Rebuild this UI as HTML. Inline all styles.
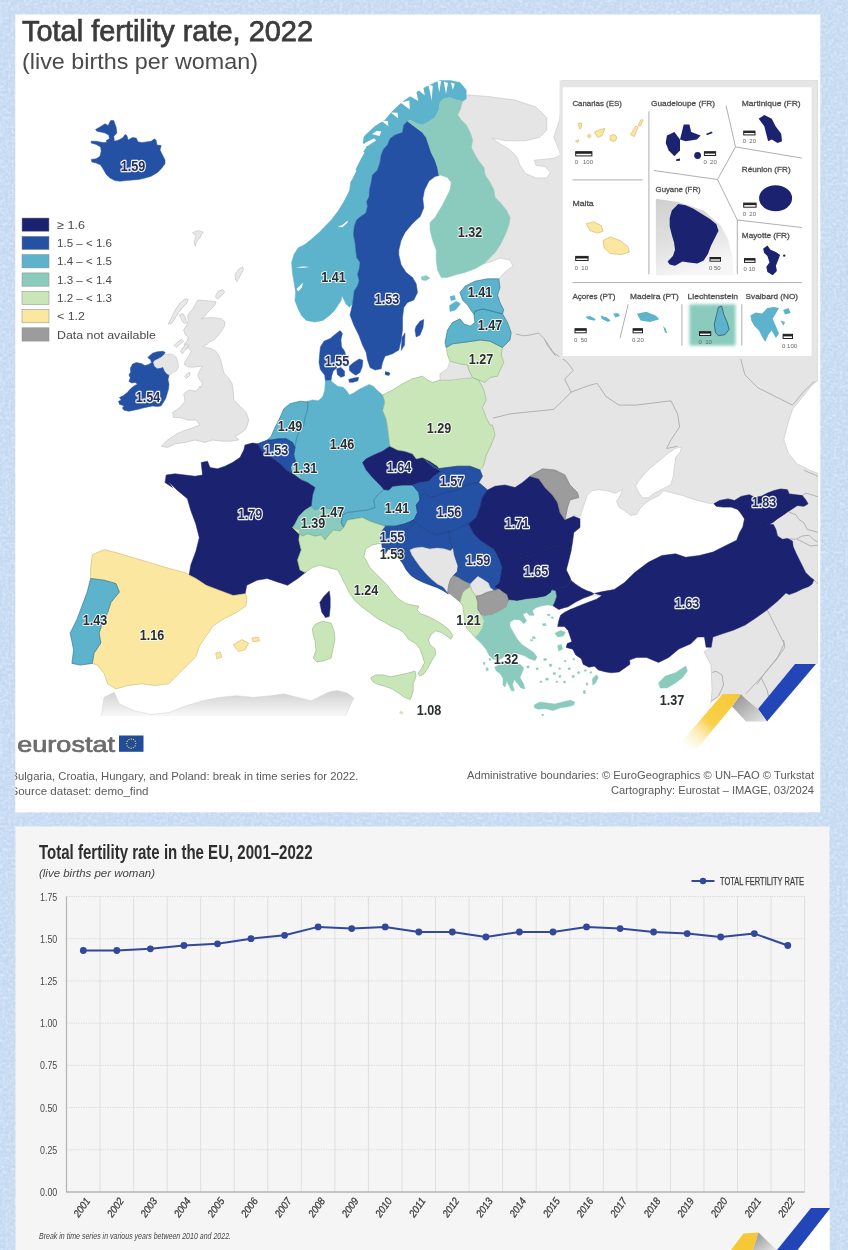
<!DOCTYPE html>
<html lang="en"><head><meta charset="utf-8"><title>Total fertility rate, 2022</title>
<style>html,body{margin:0;padding:0;background:#c3d8f1;}svg{display:block;filter:blur(0.45px)}text{font-family:"Liberation Sans",sans-serif}</style></head><body>
<svg width="848" height="1250" viewBox="0 0 848 1250">
<defs>
<clipPath id="mapclip"><rect x="15.3" y="80" width="802.6" height="645"/></clipPath>
<filter id="noise" x="0" y="0" width="100%" height="100%"><feTurbulence type="fractalNoise" baseFrequency="0.35" numOctaves="2" seed="3" result="n"/><feColorMatrix in="n" type="matrix" values="0 0 0 0 0.84  0 0 0 0 0.90  0 0 0 0 0.975  0.8 0.8 0 0 -0.62"/></filter>
<linearGradient id="afr" gradientUnits="userSpaceOnUse" x1="0" y1="692" x2="0" y2="720"><stop offset="0" stop-color="#d2d2d2"/><stop offset="1" stop-color="#ffffff"/></linearGradient>
<linearGradient id="yel" x1="1" y1="0" x2="0" y2="1"><stop offset="0" stop-color="#f6c835"/><stop offset="0.5" stop-color="#f8d04a"/><stop offset="1" stop-color="#ffffff" stop-opacity="0"/></linearGradient>
<linearGradient id="gry" x1="0" y1="0" x2="1" y2="1"><stop offset="0" stop-color="#8e8e8e"/><stop offset="1" stop-color="#e6e6e6"/></linearGradient>
<filter id="soft" x="-10%" y="-10%" width="120%" height="120%"><feGaussianBlur stdDeviation="1.5"/></filter>
<linearGradient id="guy" x1="0" y1="0" x2="0.35" y2="1"><stop offset="0" stop-color="#cfcfcf"/><stop offset="0.6" stop-color="#e2e2e2"/><stop offset="1" stop-color="#f6f6f6"/></linearGradient>
</defs>

<rect width="848" height="1250" fill="#c3d8f1"/>
<rect width="848" height="1250" fill="#c3d8f1" filter="url(#noise)"/>
<rect x="15.3" y="14.5" width="805" height="797.8" fill="#ffffff"/>
<g clip-path="url(#mapclip)">
<g id="land-bg">
<polygon points="466.2,98.8 465.4,94.8 488.4,96.5 514.9,100.1 536.1,107.1 546.8,117.8 546.8,130.1 539.7,137.2 525.5,140.8 506.1,140.8 491.9,138.1 500.8,144.3 509.6,149.6 516.7,156.7 520.2,165.5 525.5,173.5 536.1,177.9 546.8,177.9 550.3,172.6 545,166.4 536.1,165.5 534.4,160.2 543.2,159.3 553.8,158.4 560.9,154.9 557.4,146.1 553.8,137.2 559.1,121.3 561.8,105.4 562,80 818,80 818,722 705,722 708,712 711,703 712,690 711,665 704,652 711,647 690,600 650,540 600,520 560,520 470,510 440,460 470,400 490,350 495,300 498.8,278.8 505,272 513,266 510,260 500,258 490,262 483.8,263.8 490,257.5 495,252.5 500,245 505,235 508.8,225 510,217.5 506.2,210 500,202.5 495,197.5 493.8,190 490,182.5 485,175 483.8,167.5 478.8,161.2 475,155 471.2,147.5 472.5,140 470,132.5 466.2,125 461.2,120 457.5,115 460,110 462.5,101.2" fill="#e5e5e5" stroke="#c4c4c4" stroke-width="0.6" stroke-linejoin="round"/>
<polygon points="580,516.7 582.4,509.6 584.8,502.5 587.1,495.5 591.8,490.8 598.9,489.6 607.2,490.8 615.4,493.1 622.5,489.6 620.1,495.5 616.6,501.4 619,507.3 624.9,510.8 630.8,515.5 636.7,514.3 640.2,508.4 646.1,502.5 652,499 659.1,495.5 663.8,490.8 673.2,493.1 682.6,495.5 692.1,499 701.5,501.4 710.9,503.7 715.7,502.5 725.1,501.4 752,500 753,522 742,544 728,558 702,565 678,565 659,563 640,570 626,582 610,594 594,596 586,593 575,592 564,584 559,571 560,557 564,540 568,525 574,515" fill="#ffffff" stroke="#c4c4c4" stroke-width="0.6" stroke-linejoin="round"/>
<polygon points="635.5,486 640.2,479 647.3,470.7 654.3,464.8 661.4,458.9 668.5,453 675.6,448.3 681.5,447.1 680.3,451.8 675.6,457.7 674.4,467.2 673.2,476.6 670.8,484.9 663.8,488.4 659.1,490.8 654.3,493.1 648.4,497.8 642.5,497.8 639,493.1" fill="#ffffff" stroke="#c4c4c4" stroke-width="0.6" stroke-linejoin="round"/>
<polygon points="822.9,376.9 814.2,383.4 809.9,387.7 801.2,398.6 792.5,409.4 788.2,422.5 783.8,439.8 788.2,452.8 796.8,463.7 809.9,470.2 822.9,475.4" fill="#ffffff" stroke="#c4c4c4" stroke-width="0.6" stroke-linejoin="round"/>
<polygon points="104,697.4 114.3,692.3 119.4,704 134.7,711 151.7,714.4 168.7,712.7 185.7,706 202.7,700.8 219.6,697.4 236.6,695.7 253.6,697.4 270.6,695.7 284,694 297.8,697.4 311.4,700.8 318,697.4 328.3,692.3 336.8,690.5 347,693 353.8,698 350,706 345,716.6 343,726 100,726" fill="url(#afr)" stroke="#cfcfcf" stroke-width="0.5"/>
<rect x="90" y="716" width="270" height="12" fill="#ffffff"/>
<g fill="none" stroke="#ababab" stroke-width="0.9" stroke-linejoin="round">
<polyline points="493.0,418.1 510.4,413.8 532.1,411.6 553.8,409.4 562.5,400.8 571.1,392.1 588.5,385.6 597.2,383.4"/>
<polyline points="597.2,383.4 605.9,396.4 618.9,405.1 636.2,405.1 653.6,402.9 671.0,400.8 677.5,413.8 679.7,426.8 671.0,439.8 666.6,448.5 677.5,446.3"/>
<polyline points="545.1,340.0 553.8,353.0 566.8,361.7 573.3,370.4 564.6,379.1 571.1,392.1"/>
<polyline points="515.8,334.0 523.4,335.8 530.9,334.9 538.5,333.0 544.2,338.7 547.9,346.2 555.5,355.7"/>
<polyline points="740.4,357.4 744.8,374.7 757.8,387.7 775.1,396.4 792.5,405.1 803.4,392.1 814.2,381.2"/>
<polyline points="789.1,512.1 795.7,514.6 799.0,519.5 803.9,522.8 807.2,529.4 813.8,531.1 818.8,532.7"/>
<polyline points="787.4,538.5 795.7,539.3 802.3,536.0 808.9,535.2 813.0,539.3 818.8,542.6"/>
<polyline points="797.3,539.3 803.9,542.6 810.5,545.9 818.8,545.1"/>
<polyline points="802.3,495.6 805.6,493.1 812.2,494.8 818.8,497.2"/>
<polyline points="813.8,579.8 816.3,582.3 818.0,583.9"/>
<polyline points="803.9,470.0 808.9,472.5 815.5,475.0 818.8,477.4"/>
<polyline points="767.2,609.8 777.4,630.2 784.2,643.8 777.4,657.4 763.8,674.4 757.0,684.6"/>
<polyline points="783.5,640.0 784.8,647.5 776.0,660.0 761.0,677.5 746.0,693.8"/>
<polyline points="761.0,677.5 767.2,690.0 768.5,696.2"/>
<polyline points="711.0,701.2 718.5,696.2 723.5,685.0 722.2,675.0 716.0,671.2 712.2,672.5"/>
</g>
<g fill="#e8e8e8" stroke="#b5b5b5" stroke-width="0.5">
<polygon points="192.5,232.7 198.1,230.6 203.1,232.0 199.5,238.4 196.7,241.2 195.3,246.2 193.9,242.6 196.0,236.3"/>
<polygon points="234.9,275.2 238.4,269.5 242.7,266.7 243.4,269.5 240.6,275.2 237.0,281.6 235.6,279.4"/>
<polygon points="215.4,296.4 217.9,291.5 222.9,289.6 224.7,292.2 220.8,296.4 217.6,299.2"/>
</g>
</g><g id="countries">
<polygon points="95.6,129.4 100,126.9 105,123.8 108.1,125.6 110.6,120.6 113.8,120.6 116.2,127.5 116.9,133.1 113.8,136.2 114.4,141.2 118.8,140 123.1,137.5 125,134.4 126.9,135.6 128.1,140 132.5,137.5 136.2,138.1 138.1,141.9 142.5,142.5 146.2,141.9 151.2,141.2 154.4,138.8 156.2,140.6 156.9,145 161.2,145.6 160,150 162.5,155 165,160 165,163.8 161.2,168.8 157.5,172.5 151.2,176.2 145,178.1 138.8,179.4 132.5,180 126.2,180.6 120,181.2 115,180.6 110,178.1 106.2,174.4 103.8,170 100.6,165 96.2,163.1 91.9,161.9 91.2,159.4 96.2,158.8 100,156.2 101.2,151.2 100.6,146.9 96.2,144.4 91.2,143.1 91.2,141.2 96.2,141.2 102.5,142.5 106.9,142.5 106.2,140.6 109.4,138.8 108.8,135 105,133.1 100.6,131.9 96.9,131.2" fill="#2451a3" stroke="#2451a3" stroke-width="0.5" stroke-linejoin="round"/>
<polygon points="352.6,303.9 349.3,307.2 346,303.9 343.6,299 341.9,295.7 341.1,300.6 337.8,305.6 334.5,310.5 329.5,315.5 322.9,320.4 314.7,322.1 306.4,320.4 301.5,315.5 298.2,308.9 294.9,300.6 295.7,292.4 294,282.5 292.4,272.5 291.6,262.6 294,254.4 298.2,247.8 304.8,244.5 311.4,239.2 319.1,232.6 325.4,226 331.7,219.4 338.1,211.1 343.1,202.9 346.4,196.3 349.7,190 350.5,182.5 353,175 356.8,167.5 360.5,160 363,152.5 366.5,147.5 363,142.5 364.2,136.2 369.5,131.2 375,126.2 385,120 391.2,112.5 397.5,106.2 405,100 412.5,95 420,90 427.5,86.2 435,82.5 440,80.5 450,80.5 460,82.5 466.2,90 466.2,98.8 462.5,101.2 456.2,100 450,97.5 443.8,98.8 440,102.5 438.8,110 435,117.5 427.5,122.5 422.5,125 417.5,123.8 410,120 407.5,121.2 403.8,125 402.5,132.5 395,135 390,138.8 387.5,145 383.8,148.8 381.2,155 380,162.5 377.5,170 372.5,175 371.2,182.5 369.5,190 369.2,196.6 366.7,201.6 367.5,206.5 365.9,213.1 360.9,216.4 356.8,219.7 354.3,226.3 353.5,234.6 355.1,242.8 355.9,251.1 356.8,257.7 360.1,262.6 359.2,269.2 357.6,274.2 359.2,280.8 357.6,285.8 354.3,290.7 353.5,297.3 352.6,303.9" fill="#5db2cc" stroke="#5db2cc" stroke-width="0.5" stroke-linejoin="round"/>
<polygon points="407.5,121.2 403.8,125 402.5,132.5 395,135 390,138.8 387.5,145 383.8,148.8 381.2,155 380,162.5 377.5,170 372.5,175 371.2,182.5 369.5,190 369.2,196.6 366.7,201.6 367.5,206.5 365.9,213.1 360.9,216.4 356.8,219.7 354.3,226.3 353.5,234.6 355.1,242.8 355.9,251.1 356.8,257.7 360.1,262.6 359.2,269.2 357.6,274.2 359.2,280.8 357.6,285.8 354.3,290.7 353.5,297.3 352.6,303.9 350,315 353.8,325 358.8,335 362.5,345 366.2,352.5 367.5,360 370,367.5 375,370 381.2,368.8 382.5,362.5 385,356.2 392.5,353.8 398.8,350 401.2,340 402.5,330 402.5,317.5 403.8,307.5 407.5,302.5 413.8,300 417.5,292.5 416.2,283.8 412.5,277.5 406.2,272.5 401.2,265 398.8,255 398.8,250 401.2,240 405,232.5 411.2,225 416.2,220 420.2,216.5 423.8,207.8 422.8,198.8 424.5,190 429,181 435,176.5 439,175.5 437.5,167.5 435,160 431.2,152.5 428.8,145 426.2,137.5 422.5,132.5 417.5,128.8 412.5,125 407.5,121.2" fill="#2451a3" stroke="#2451a3" stroke-width="0.5" stroke-linejoin="round"/>
<polygon points="416.2,326.2 420,321.2 423.8,319.5 423,327.5 420,335 416.2,337 415,330" fill="#2451a3" stroke="#2451a3" stroke-width="0.5" stroke-linejoin="round"/>
<polygon points="402,337.5 405,333 404.5,345 401.2,350.5" fill="#2451a3" stroke="#2451a3" stroke-width="0.5" stroke-linejoin="round"/>
<polygon points="385.5,372.2 389,372.8 389,375.2 385.5,374.8" fill="#2451a3" stroke="#2451a3" stroke-width="0.5" stroke-linejoin="round"/>
<polygon points="407.5,121.2 410,120 417.5,123.8 422.5,125 427.5,122.5 435,117.5 438.8,110 440,102.5 443.8,98.8 450,97.5 456.2,100 462.5,101.2 460,110 457.5,115 461.2,120 466.2,125 470,132.5 472.5,140 471.2,147.5 475,155 478.8,161.2 483.8,167.5 485,175 490,182.5 493.8,190 495,197.5 500,202.5 506.2,210 510,217.5 508.8,225 505,235 500,245 495,252.5 490,257.5 483.8,263.8 475,268.8 465,272.5 455,275 447.5,277.5 441.2,277.5 437.5,270 436.2,260 436.2,250 432.5,240 430,230 430,222.5 435,217.5 438.8,211.2 442.5,205 446.2,197.5 450,190 451.2,182.5 447.5,177.5 440,175 439,175.5 437.5,167.5 435,160 431.2,152.5 428.8,145 426.2,137.5 422.5,132.5 417.5,128.8 412.5,125" fill="#8acbbd" stroke="#8acbbd" stroke-width="0.5" stroke-linejoin="round"/>
<polygon points="325.4,380.8 324.7,375.2 320.4,369.5 319,362.5 319.7,354 320.4,346.9 324,341.2 330.3,338.4 335.3,334.2 340.2,330.6 342.4,333.4 340.9,339.8 341.6,346.9 344.5,351.1 345.9,355.4 342.4,357.5 338.1,358.9 335.3,362.5 336.7,368.1 333.2,370.9 331.7,375.9 331,380.8" fill="#2451a3" stroke="#2451a3" stroke-width="0.5" stroke-linejoin="round"/>
<polygon points="336.7,368.8 340.9,367.4 344.5,370.9 344.5,375.9 340.9,377.3 337.4,374.5" fill="#2451a3" stroke="#2451a3" stroke-width="0.5" stroke-linejoin="round"/>
<polygon points="349.4,366 353.7,362.5 359.3,358.9 362.9,360.3 362.2,366.7 360,372.4 355.8,375.2 352.3,373.1 349.4,370.2" fill="#2451a3" stroke="#2451a3" stroke-width="0.5" stroke-linejoin="round"/>
<polygon points="348.7,379.4 353.7,378 358.6,377.3 357.9,380.8 353,382.3 349.4,382.3" fill="#2451a3" stroke="#2451a3" stroke-width="0.5" stroke-linejoin="round"/>
<polygon points="385.5,371.6 389.8,373.1 389.1,375.2 385.5,374.5" fill="#2451a3" stroke="#2451a3" stroke-width="0.5" stroke-linejoin="round"/>
<polygon points="307,401.4 312.6,399.9 318.3,400.7 322.5,397.1 324.7,390.8 325.4,380.8 331,380.8 332.5,382.3 338.1,386.5 343.1,387.2 346.6,390.8 349.4,395 353.7,392.9 359.3,389.3 365,386.5 369.2,384.4 373.5,386.5 377.7,390.8 382.7,395 384.8,402.1 382.7,410.6 386.2,419.1 387.6,427.5 388.8,437.5 390,446.2 382.5,451.2 373.8,455 366.2,458.8 362.5,462.5 366.2,470 372.5,477.5 380,485 383.8,489.5 377.5,495 373.8,500 375,507.5 367.5,510 357.5,511.2 347.5,512.5 342.5,515 340,511.2 330,508.8 322.5,507.5 315,510 311.2,506.2 312.5,495 315,487.5 307.5,482.5 301.2,480 298.8,470 296.2,463.8 293.8,455 295,447.5 296.2,440 298.8,432.5 303.8,425 305,417.5 307.5,410 308,402" fill="#5db2cc" stroke="#5db2cc" stroke-width="0.5" stroke-linejoin="round"/>
<polygon points="308,402 307.5,410 305,417.5 303.8,425 298.8,432.5 296.2,440 295,447.5 292.5,442.5 286.2,438.8 278.8,438.8 271.2,440 267.5,440 271.2,436.2 275,427.5 280,417.5 283.8,408.8 290,403.8 300,401.2" fill="#5db2cc" stroke="#2a6f8c" stroke-width="0.6" stroke-linejoin="round"/>
<polygon points="295,447.5 292.5,442.5 286.2,438.8 278.8,438.8 271.2,440 267.5,440 257.5,443.8 261.2,450 267.5,455 275,460 281.2,465 287.5,471.2 292.5,473.8 291.2,467.5 293,463 296.2,463.8 293.8,455 295,447.5" fill="#2451a3" stroke="#173b80" stroke-width="0.6" stroke-linejoin="round"/>
<polygon points="292.5,473.8 291.2,467.5 293,463 296.2,463.8 298.8,470 301.2,480 296.2,476.2 292.5,473.8" fill="#8acbbd" stroke="#4a9a8a" stroke-width="0.6" stroke-linejoin="round"/>
<polygon points="189.1,575.1 190.8,564.9 195.9,551.3 199.3,537.7 195.9,524.2 190.8,510.6 187.4,498.7 177.2,490.2 168.7,481.7 172.5,487.5 165,482.5 166.2,475 175,473.8 185,475 195,476.2 202.5,475 201.2,462.5 207.5,461.2 210,467.5 217.5,468.8 225,466.2 232.5,462.5 240,457.5 243.8,450 245,445 252.5,443 257.5,443.8 261.2,450 267.5,455 275,460 281.2,465 287.5,471.2 292.5,473.8 296.2,476.2 301.2,480 307.5,482.5 315,487.5 312.5,495 311.2,506.2 305,510 298.8,516.2 295,523.8 292.5,527.5 300,530 298.8,540 301.2,550 297.5,560 300,570 305,572.5 306.3,571.7 297.8,578.5 287.6,585.3 277.4,581.9 267.2,578.5 257,580.2 246.8,585.3 245.1,593.8 233.2,595.5 219.6,590.4 206.1,585.3 195.9,578.5 189.1,575.1" fill="#1b2371" stroke="#1b2371" stroke-width="0.5" stroke-linejoin="round"/>
<polygon points="319.8,602.5 323.6,596.8 329.2,591.1 330.2,597.7 330.2,607.2 329.2,616.6 325.5,617.5 321.7,611.9" fill="#1b2371" stroke="#1b2371" stroke-width="0.5" stroke-linejoin="round"/>
<polygon points="342.5,515 340,511.2 330,508.8 322.5,507.5 315,510 311.2,506.2 305,510 298.8,516.2 295,523.8 292.5,527.5 297.5,532.5 302.5,536.2 307.5,533.8 315,536.2 321.2,535 325,540 328.8,535 333.8,530 340,531.2 343.8,527.5 341.2,522.5 342.5,516.2 342.5,515" fill="#8acbbd" stroke="#4a9a8a" stroke-width="0.6" stroke-linejoin="round"/>
<polygon points="342.5,515 347.5,512.5 357.5,511.2 367.5,510 375,507.5 373.8,500 377.5,495 383.8,489.5 388.8,490 392.5,486.2 402.5,485 412.5,485 418.8,492.5 420,500 416.2,505 417.5,512.5 413.8,520 405,523.8 395,526.2 385,526.2 377.5,523.8 370,521.2 362.5,517.5 355,518.8 347.5,520 343.8,527.5 341.2,522.5 342.5,516.2 342.5,515" fill="#5db2cc" stroke="#2a6f8c" stroke-width="0.6" stroke-linejoin="round"/>
<polygon points="383.8,489.5 380,485 372.5,477.5 366.2,470 362.5,462.5 366.2,458.8 373.8,455 382.5,451.2 390,446.2 397.5,450 405,451.2 412.5,453.8 416.2,458.8 422.5,457.5 430,461.2 437.5,466.2 441.2,471.2 433.8,476.2 428.8,481.2 420,482.5 412.5,485 402.5,485 392.5,486.2 388.8,490 383.8,489.5" fill="#1b2371" stroke="#1b2371" stroke-width="0.5" stroke-linejoin="round"/>
<polygon points="390,446.2 388.8,437.5 387.6,427.5 386.2,419.1 382.7,410.6 384.8,402.1 382.7,395 392.5,390 402.5,383.8 412.5,378.8 422.5,376.2 427.5,380 432.5,382.5 440,380 450,380 460,378.8 472.5,377.5 478.8,380 483.8,390 486.2,400 482.5,407.5 486.2,417.5 490,425 492.5,425 495,435 491.2,445 486.2,455 483.8,465 480,470 470,466.2 457.5,466.2 447.5,467.5 437.5,468.8 432.5,466.2 425,460 441.2,471.2 437.5,466.2 430,461.2 422.5,457.5 416.2,458.8 412.5,453.8 405,451.2 397.5,450 390,446.2" fill="#c9e6b9" stroke="#8fb37e" stroke-width="0.6" stroke-linejoin="round"/>
<polygon points="440,373.8 447.5,368.8 450,361.2 460,363.8 467.5,365 468.8,370 472.5,377.5 472.5,377.5 460,378.8 450,380 440,380" fill="#e5e5e5" stroke="#c4c4c4" stroke-width="0.6" stroke-linejoin="round"/>
<polygon points="446.2,347.5 452.5,343.8 462.5,342.5 472.5,341.2 480,340 490,341.2 497.5,345 502.5,347.5 501.2,355 503.8,362.5 500,370 497.5,376.2 490,377.5 485,382.5 478.8,380 472.5,377.5 468.8,370 467.5,365 460,363.8 450,361.2 447.5,355" fill="#c9e6b9" stroke="#8fb37e" stroke-width="0.6" stroke-linejoin="round"/>
<polygon points="446.2,347.5 445,342.5 447.5,330 452.5,322.5 460,318.8 463.8,323.8 470,326.2 475,322.5 473.8,313.8 475,311.2 482.5,308.8 492.5,311.2 502.5,313.8 507.5,322.5 511.2,332.5 510,340 502.5,347.5 497.5,345 490,341.2 480,340 472.5,341.2 462.5,342.5 452.5,343.8 446.2,347.5" fill="#5db2cc" stroke="#2a6f8c" stroke-width="0.6" stroke-linejoin="round"/>
<polygon points="460,292.5 465,286.2 475,281.2 487.5,278.8 498.8,278.8 500,287.5 497.5,295 500,302.5 503.8,310 502.5,313.8 492.5,311.2 482.5,308.8 475,311.2 473.8,313.8 472.5,312.5 467.5,305 462.5,300" fill="#5db2cc" stroke="#2a6f8c" stroke-width="0.6" stroke-linejoin="round"/>
<polygon points="449.5,305.5 456.2,301.2 460.5,303.8 455.5,310 450,311.5" fill="#5db2cc" stroke="#5db2cc" stroke-width="0.5" stroke-linejoin="round"/>
<polygon points="450,296.5 454.5,295.5 455.5,299.5 451,300.5" fill="#5db2cc" stroke="#5db2cc" stroke-width="0.5" stroke-linejoin="round"/>
<polygon points="421.2,277 426.2,275.5 430,278 426.2,280.5 422,280" fill="#8acbbd" stroke="#8acbbd" stroke-width="0.5" stroke-linejoin="round"/>
<polygon points="425,460 432.5,466.2 437.5,468.8 447.5,467.5 457.5,466.2 470,466.2 480,470 482.5,476.2 478.8,482.5 470,483.8 462.5,487.5 455,491.2 445,492.5 437.5,496.2 430,497.5 423.8,492.5 420,500 418.8,492.5 412.5,485 420,482.5 428.8,481.2 433.8,476.2 441.2,471.2" fill="#2451a3" stroke="#173b80" stroke-width="0.6" stroke-linejoin="round"/>
<polygon points="420,500 416.2,505 417.5,512.5 413.8,520 411.9,520.8 415.7,522.6 420.4,526.4 426,530.2 431.7,533 437.4,534.9 443,533 448.7,531.1 450,532.5 460,527.5 468.8,523.8 476.2,517.5 480,507.5 482.5,497.5 487.5,490 478.8,482.5 470,483.8 462.5,487.5 455,491.2 445,492.5 437.5,496.2 430,497.5 423.8,492.5" fill="#2451a3" stroke="#173b80" stroke-width="0.6" stroke-linejoin="round"/>
<polygon points="413.8,520 405,523.8 395,526.2 385,526.2 380.8,532.1 379.8,538.7 381.7,544.3 388.3,544.3 394,542.5 401.5,540.6 405.3,535.8 404.3,530.2 409.1,528.3 412.8,525.5 415.7,522.6 411.9,520.8" fill="#2451a3" stroke="#173b80" stroke-width="0.6" stroke-linejoin="round"/>
<polygon points="415.7,522.6 412.8,525.5 409.1,528.3 404.3,530.2 405.3,535.8 401.5,540.6 394,542.5 388.3,544.3 381.7,544.3 382.6,549.1 385.5,553.8 388.3,549.1 393,550.9 397.7,556.6 402.5,563.2 406.2,569.8 410.9,575.5 416.6,579.2 422.3,582.1 429.8,584.9 437.4,587.7 443,590.6 448.3,594 447.7,592.5 443,586.8 437.4,584 431.7,579.2 426,573.6 420.4,567 415.7,560.4 411.9,554.7 410,550 414.7,548.1 422.3,547.2 429.8,549.1 437.4,548.1 444.9,549.1 450.6,550.9 453.4,548.1 450.6,542.5 449.6,535.8 448.7,531.1 443,533 437.4,534.9 431.7,533 426,530.2 420.4,526.4 415.7,522.6" fill="#2451a3" stroke="#173b80" stroke-width="0.6" stroke-linejoin="round"/>
<polygon points="453.4,548.1 450.6,550.9 444.9,549.1 437.4,548.1 429.8,549.1 422.3,547.2 414.7,548.1 410,550 411.9,554.7 415.7,560.4 420.4,567 426,573.6 431.7,579.2 437.4,584 443,586.8 447.7,592.5 448.7,584.9 450.6,579.2 453.4,575.5 457.2,571.7 458.1,566 456.2,560.4 454.3,554.7 453.4,548.1" fill="#e5e5e5" stroke="#c4c4c4" stroke-width="0.6" stroke-linejoin="round"/>
<polygon points="450,532.5 460,527.5 468.8,523.8 473.8,533.8 480,540 487.5,545 495,550 500,560 502.5,567.5 501.2,575 500,582.5 495,587 499.6,588.7 494,590.6 490.2,587.7 488.3,583 482.6,579.2 477.9,576.4 473.2,581.1 470.4,584 463.8,581.1 458.1,577.4 453.4,575.5 457.2,571.7 458.1,566 456.2,560.4 454.3,554.7 453.4,548.1 450.6,542.5 449.6,535.8 448.7,531.1" fill="#2451a3" stroke="#173b80" stroke-width="0.6" stroke-linejoin="round"/>
<polygon points="447.7,592.5 448.7,584.9 450.6,579.2 453.4,575.5 458.1,577.4 463.8,581.1 470.4,584 470.4,586.8 465.7,589.6 462.8,592.5 460.9,598.1 460,601.9 455.3,598.1 450.6,594.3" fill="#9c9c9c" stroke="#777" stroke-width="0.6" stroke-linejoin="round"/>
<polygon points="494,590.6 490.2,587.7 488.3,583 482.6,579.2 477.9,576.4 473.2,581.1 470.4,584 470.4,586.8 472.3,591.5 476,596.2 480.8,595.3 486.4,592.5 494,590.6" fill="#e5e5e5" stroke="#c4c4c4" stroke-width="0.6" stroke-linejoin="round"/>
<polygon points="460,601.9 460.9,598.1 462.8,592.5 465.7,589.6 470.4,586.8 472.3,591.5 476,596.2 477.9,601.9 477.9,609.4 481.7,615.1 484.5,620.8 482.6,628.3 478.9,634 475.1,637.7 470.4,632.1 466.6,628.3 464.7,620.8 463.8,613.2 462.8,605.7" fill="#c9e6b9" stroke="#8fb37e" stroke-width="0.6" stroke-linejoin="round"/>
<polygon points="476,596.2 480.8,595.3 486.4,592.5 494,590.6 499.6,588.7 501.5,590.6 507.2,594.3 509.1,600 506.2,607.5 499.6,611.3 492.1,615.1 484.5,616 481.7,615.1 477.9,609.4 477.9,601.9 476,596.2" fill="#9c9c9c" stroke="#777" stroke-width="0.6" stroke-linejoin="round"/>
<polygon points="468.8,523.8 476.2,517.5 480,507.5 482.5,497.5 487.5,490 495,486.2 505,485 515,487.5 522.5,482.5 530,476.2 538.8,478.8 545,487.5 552.5,495 557.5,502.5 560,512.5 565,520 573.8,516.2 580,518.8 580,527.5 573.8,532.5 572.5,542.5 571.2,550 560,545 550,547.5 540,552.5 530,556.2 520,557.5 510,557.5 502.5,555 495,550 487.5,545 480,540 473.8,533.8 468.8,523.8" fill="#1b2371" stroke="#1b2371" stroke-width="0.5" stroke-linejoin="round"/>
<polygon points="530,476.2 533.8,473.8 542.5,468.8 555,470 565,475 570,485 577.5,492.5 578.8,497.5 570,500 567.5,507.5 565,520 560,512.5 557.5,502.5 552.5,495 545,487.5 538.8,478.8" fill="#9c9c9c" stroke="#777" stroke-width="0.6" stroke-linejoin="round"/>
<polygon points="495,550 502.5,555 510,557.5 520,557.5 530,556.2 540,552.5 550,547.5 560,545 571.2,550 568.8,560 566.2,570 570,577.5 570.9,580.4 568.1,584.2 564.3,587 558.7,587.9 552.1,589.8 551.1,592.6 545.5,596.4 536,598.3 526.6,599.2 517.2,601.1 508.7,604 509.1,600 507.2,594.3 501.5,590.6 499.6,588.7 495,587 500,582.5 501.2,575 502.5,567.5 500,560 495,550" fill="#1b2371" stroke="#10154d" stroke-width="0.6" stroke-linejoin="round"/>
<polygon points="475.1,637.7 478.9,634 482.6,628.3 484.5,620.8 481.7,615.1 484.5,616 492.1,615.1 499.6,611.3 506.2,607.5 509.1,600 517.2,601.1 526.6,599.2 536,598.3 545.5,596.4 551.1,592.6 552.1,589.8 555.8,590.8 556.8,596.4 554.9,602.1 553,605.8 547.4,604.9 541.7,605.8 536,607.7 532.3,610.6 534.2,615.3 529.4,615.3 526.6,612.5 522.8,614.3 526.6,620.9 523.8,623.8 520,620 514.3,619.4 510,621.9 510,626.6 513.8,633.2 517.5,639.4 521.9,644.5 527.5,648.3 533.2,652.1 537,656.8 535.1,660.6 529.4,658.7 524.7,655.8 519.1,654 514.3,653 510.6,655.8 504,656.8 498.3,660.6 492.6,658.7 488.9,654.9 486,649.2 481.3,643.6" fill="#8acbbd" stroke="#8acbbd" stroke-width="0.5" stroke-linejoin="round"/>
<polygon points="494.5,667.2 500.2,664.3 507.7,662.5 515.3,663.4 520,664.3 523.8,668.1 521.9,672.8 520,677.5 523.8,684.2 524.7,688.9 520.9,687.9 517.2,683.2 514.3,679.4 512.5,684.2 514.3,690.8 511.5,690.8 508.7,685.1 506.8,681.3 504.9,687 503,685.1 503,678.5 500.2,673.8 496.4,670.9" fill="#8acbbd" stroke="#8acbbd" stroke-width="0.5" stroke-linejoin="round"/>
<polygon points="520,645.5 526.6,650.2 533.2,654.9 532.3,656.8 525.7,653 519.4,647.7" fill="#8acbbd" stroke="#8acbbd" stroke-width="0.5" stroke-linejoin="round"/>
<polygon points="534.2,704.9 539.8,702.1 547.4,703 554.9,704 562.5,702.1 570,700.2 574.7,702.1 573.8,704.9 568.1,706.8 560.6,707.7 553,710.6 545.5,708.7 537.9,709.2 534.5,707.7" fill="#8acbbd" stroke="#8acbbd" stroke-width="0.5" stroke-linejoin="round"/>
<polygon points="592.6,678.5 596.4,674.7 598.3,677.5 595.5,683.2 592.6,685.1" fill="#8acbbd" stroke="#8acbbd" stroke-width="0.5" stroke-linejoin="round"/>
<polygon points="554.9,633.2 560.6,630.4 565.3,632.3 563.4,636 557.7,637" fill="#8acbbd" stroke="#8acbbd" stroke-width="0.5" stroke-linejoin="round"/>
<polygon points="557.7,645.5 561.5,644.5 562.5,649.2 558.7,651.1" fill="#8acbbd" stroke="#8acbbd" stroke-width="0.5" stroke-linejoin="round"/>
<polygon points="532.3,637 534.9,636.6 535.3,638.5 532.6,638.7" fill="#8acbbd" stroke="#8acbbd" stroke-width="0.5" stroke-linejoin="round"/>
<polygon points="542.6,623.8 545.7,623.4 546,625.5 543,625.7" fill="#8acbbd" stroke="#8acbbd" stroke-width="0.5" stroke-linejoin="round"/>
<polygon points="547.4,614.3 549.6,614 550,615.7 547.7,615.8" fill="#8acbbd" stroke="#8acbbd" stroke-width="0.5" stroke-linejoin="round"/>
<polygon points="551.1,617.2 553,616.8 553.4,618.3 551.5,618.5" fill="#8acbbd" stroke="#8acbbd" stroke-width="0.5" stroke-linejoin="round"/>
<polygon points="530.4,639.8 532.3,639.4 532.6,640.9 530.8,641.1" fill="#8acbbd" stroke="#8acbbd" stroke-width="0.5" stroke-linejoin="round"/>
<polygon points="543.6,658.7 546.2,658.3 546.6,660.2 544,660.4" fill="#8acbbd" stroke="#8acbbd" stroke-width="0.5" stroke-linejoin="round"/>
<polygon points="549.2,664.3 551.5,664 551.9,666.2 549.6,666.4" fill="#8acbbd" stroke="#8acbbd" stroke-width="0.5" stroke-linejoin="round"/>
<polygon points="553,672.8 555.3,672.5 555.7,674.3 553.4,674.5" fill="#8acbbd" stroke="#8acbbd" stroke-width="0.5" stroke-linejoin="round"/>
<polygon points="558.7,675.7 560.6,675.3 560.9,677.2 559.1,677.4" fill="#8acbbd" stroke="#8acbbd" stroke-width="0.5" stroke-linejoin="round"/>
<polygon points="545.5,678.5 548.1,678.1 548.5,680 545.8,680.2" fill="#8acbbd" stroke="#8acbbd" stroke-width="0.5" stroke-linejoin="round"/>
<polygon points="539.8,681.3 541.7,680.9 542.1,682.5 540.2,682.6" fill="#8acbbd" stroke="#8acbbd" stroke-width="0.5" stroke-linejoin="round"/>
<polygon points="563.4,681.3 565.3,680.9 565.7,682.8 563.8,683" fill="#8acbbd" stroke="#8acbbd" stroke-width="0.5" stroke-linejoin="round"/>
<polygon points="568.1,668.1 570,667.7 570.4,669.6 568.5,669.8" fill="#8acbbd" stroke="#8acbbd" stroke-width="0.5" stroke-linejoin="round"/>
<polygon points="571.9,675.7 574.2,675.3 574.5,677.2 572.3,677.4" fill="#8acbbd" stroke="#8acbbd" stroke-width="0.5" stroke-linejoin="round"/>
<polygon points="577.5,671.9 579.4,671.5 579.8,673.4 577.9,673.6" fill="#8acbbd" stroke="#8acbbd" stroke-width="0.5" stroke-linejoin="round"/>
<polygon points="583.2,690.8 585.1,690.4 585.5,693.4 583.6,693.6" fill="#8acbbd" stroke="#8acbbd" stroke-width="0.5" stroke-linejoin="round"/>
<polygon points="586,683.2 587.5,682.8 587.9,685.1 586.4,685.3" fill="#8acbbd" stroke="#8acbbd" stroke-width="0.5" stroke-linejoin="round"/>
<polygon points="555.8,681.3 557.4,680.9 557.7,682.5 556.2,682.6" fill="#8acbbd" stroke="#8acbbd" stroke-width="0.5" stroke-linejoin="round"/>
<polygon points="536,668.1 537.9,667.7 538.3,669.6 536.4,669.8" fill="#8acbbd" stroke="#8acbbd" stroke-width="0.5" stroke-linejoin="round"/>
<polygon points="526.6,666.2 528.9,665.8 529.2,667.7 527,667.9" fill="#8acbbd" stroke="#8acbbd" stroke-width="0.5" stroke-linejoin="round"/>
<polygon points="486,668.1 487.9,667.7 488.3,670.4 486.4,670.6" fill="#8acbbd" stroke="#8acbbd" stroke-width="0.5" stroke-linejoin="round"/>
<polygon points="483.2,662.5 484.7,662.1 485.1,664.3 483.6,664.5" fill="#8acbbd" stroke="#8acbbd" stroke-width="0.5" stroke-linejoin="round"/>
<polygon points="488.9,658.7 490.4,658.3 490.8,660.2 489.2,660.4" fill="#8acbbd" stroke="#8acbbd" stroke-width="0.5" stroke-linejoin="round"/>
<polygon points="584.2,670 586,669.6 586.4,671.1 584.5,671.3" fill="#8acbbd" stroke="#8acbbd" stroke-width="0.5" stroke-linejoin="round"/>
<polygon points="589.8,671.9 591.3,671.5 591.7,673 590.2,673.2" fill="#8acbbd" stroke="#8acbbd" stroke-width="0.5" stroke-linejoin="round"/>
<polygon points="564.3,660.6 565.8,660.2 566.2,661.7 564.7,661.9" fill="#8acbbd" stroke="#8acbbd" stroke-width="0.5" stroke-linejoin="round"/>
<polygon points="572.8,658.7 574.3,658.3 574.7,659.8 573.2,660" fill="#8acbbd" stroke="#8acbbd" stroke-width="0.5" stroke-linejoin="round"/>
<polygon points="558.7,668.1 560.2,667.7 560.6,669.2 559.1,669.4" fill="#8acbbd" stroke="#8acbbd" stroke-width="0.5" stroke-linejoin="round"/>
<polygon points="541.7,714.3 543.2,714 543.6,715.5 542.1,715.7" fill="#8acbbd" stroke="#8acbbd" stroke-width="0.5" stroke-linejoin="round"/>
<polygon points="570.9,580.4 568.1,584.2 564.3,587 558.7,587.9 552.1,589.8 555.8,590.8 556.8,596.4 554.9,602.1 553,605.8 558.7,609.6 564.3,607.7 568.1,606.8 575.7,602.1 583.2,598.3 590.8,595.5 594,593.8 591.1,592.1 587,590.8 581.3,587.9 575.7,584.2" fill="#1b2371" stroke="#1b2371" stroke-width="0.5" stroke-linejoin="round"/>
<polygon points="634.7,572.5 648.3,562.3 661.9,555.5 675.5,553.8 685.7,557.2 699.3,555.5 712.9,552.1 726.4,545.3 736.6,540.2 739.5,532.7 742.8,527 744.5,518.7 747.8,522.8 752.7,524.5 757.7,522.8 762.6,523.7 769.2,524.5 773.4,524.5 775.9,529.4 777.5,536 782.5,539.3 787.4,538.5 792.4,541 793.2,546.8 795.7,552.5 799,559.2 802.3,565.8 805.6,572.4 810.5,577.3 813.8,579.8 812.2,583.9 808.9,586.4 802.3,588.9 795.7,592.2 789.1,594.6 785.9,592.9 777.4,601.3 767.2,609.8 755.3,618.3 745.1,625.1 733.2,630.2 723,633.6 712.9,637 711.2,647.2 706.1,647.2 704.4,637 697.6,637 690.8,643.8 678.9,648.9 668.7,657.4 658.5,662.5 646.6,657.4 636.4,657.4 629.6,660.1 630,664.3 624.7,668.1 619.1,671.9 611.5,672.8 605.8,671.9 598.3,670 594.5,666.2 588.9,667.2 583.2,664.3 581.3,658.7 575.7,654.9 572.8,649.2 566.2,647.4 567.2,643.6 571.9,641.7 570,636 568.1,630.4 564.3,626.6 557.7,626.6 558.7,620.9 560.6,615.3 564.3,612.5 570,609.6 574.7,607.7 581.3,604.9 588.9,602.1 596.4,599.2 602.1,595.5 598.3,594.5 594.5,593.4 600.2,592.1 614.3,589.4 624.5,582.6" fill="#1b2371" stroke="#1b2371" stroke-width="0.5" stroke-linejoin="round"/>
<polygon points="713.9,503.8 719.7,500.5 728,498.9 734.6,500.5 741.2,496.4 749.4,494.8 754.4,497.2 761,496.4 767.6,493.1 774.2,490.6 780.8,489 787.4,489.8 789.1,493.9 795.7,494.8 802.3,495.6 805.6,499.7 808,503.8 803.9,506.3 797.3,505.5 792.4,508.8 787.4,512.1 782.5,515.4 777.5,518.7 773.4,522 769.2,524.5 762.6,523.7 757.7,522.8 752.7,524.5 747.8,522.8 744.5,518.7 741.2,513.8 737.9,509.6 731.3,507.1 723,507.1 716.4,506.3" fill="#1b2371" stroke="#10154d" stroke-width="0.6" stroke-linejoin="round"/>
<polygon points="658.5,682.9 665.3,676.1 675.5,672.7 685.7,665.9 687.4,671 682.3,677.8 675.5,682.9 667,688 660.2,688" fill="#8acbbd" stroke="#8acbbd" stroke-width="0.5" stroke-linejoin="round"/>
<polygon points="305,572.5 312.5,567.5 320,565 327.5,567.5 337.7,569.8 341.5,577 344.3,582.6 349.1,592.1 354.7,600.6 362.3,607.2 369.8,612.8 377.4,618.5 384.9,622.3 390.6,626 398.1,628.9 403.8,632.6 408.5,639.2 415.1,643 419.8,648.7 422.6,656.2 424.5,662.8 420.8,669.4 417.9,673.2 419.8,676 423.6,674.2 428.3,667.5 432.1,660 435.8,654.3 434.9,648.7 430.2,644.9 428.3,640.2 431.1,634.5 435.8,630.8 441.5,632.6 447.2,636.4 450.9,639.2 452.8,635.5 449.1,629.8 443.4,625.1 435.8,620.4 428.3,616.6 420.8,613.8 417,610 418.9,606.2 413.2,605.3 405.7,603.4 398.1,598.7 392.5,592.1 386.8,584.5 381.1,578.9 375.5,573.2 369.8,567.5 366,560 363.8,556.6 365.7,549.1 371.3,545.3 378.9,543.4 381.7,544.3 379.8,538.7 380.8,532.1 385,526.2 377.5,523.8 370,521.2 362.5,517.5 355,518.8 347.5,520 343.8,527.5 340,531.2 333.8,530 328.8,535 325,540 321.2,535 315,536.2 307.5,533.8 302.5,536.2 297.5,532.5 292.5,527.5 300,530 298.8,540 301.2,550 297.5,560 300,570" fill="#c9e6b9" stroke="#8fb37e" stroke-width="0.6" stroke-linejoin="round"/>
<polygon points="370.8,677.7 375.5,674.9 383,674.9 390.6,676.8 400,674.9 408.5,673 415.1,671.1 416,676.8 413.2,683.4 413.2,690.9 410.4,699.4 404.7,697.5 398.1,692.8 392.5,689.1 384.9,686.2 377.4,684.3 372.6,681.5" fill="#c9e6b9" stroke="#8fb37e" stroke-width="0.6" stroke-linejoin="round"/>
<polygon points="312.3,628.9 315.1,624.2 322.6,621.3 331.1,623.2 334,630.8 334.9,639.2 333,648.7 331.1,658.1 323.6,660.9 317,661.9 313.2,658.1 316,650.6 315.1,641.1 313.2,634.5" fill="#c9e6b9" stroke="#8fb37e" stroke-width="0.6" stroke-linejoin="round"/>
<polygon points="400.3,710.9 403,712.2 402.4,714.3 399.6,713.2" fill="#c9e6b9" stroke="#c9e6b9" stroke-width="0.5" stroke-linejoin="round"/>
<polygon points="90.6,568.3 92.3,554.7 104.2,549.6 117.7,553 134.7,558.1 151.7,563.2 168.7,568.3 187.4,573.4 189.1,575.1 195.9,578.5 206.1,585.3 219.6,590.4 233.2,595.5 245.1,593.8 246.8,597.2 246.1,605.7 236.6,612.5 223,619.3 212.9,626.1 206.1,636.2 199.3,646.4 195.9,656.6 189.1,663.4 178.9,673.6 168.7,683.8 155.1,685.5 141.5,683.8 127.9,685.5 116,688.9 107.6,683.8 104.2,673.6 97.4,665.1 92.3,663.4 94,653.2 100.8,643 99.1,632.9 102.5,622.7 107.6,612.5 111,602.3 119.4,592.1 116,583.6 104.2,580.2 90.6,578.5" fill="#fbe7a0" stroke="#cdb86f" stroke-width="0.6" stroke-linejoin="round"/>
<polygon points="233.2,644.7 241.7,639.6 248.5,643 245.1,649.8 238.3,651.5" fill="#fbe7a0" stroke="#cdb86f" stroke-width="0.6" stroke-linejoin="round"/>
<polygon points="251.9,637.9 258.7,637.3 259.4,641 252.9,641.7" fill="#fbe7a0" stroke="#cdb86f" stroke-width="0.6" stroke-linejoin="round"/>
<polygon points="215.6,653.2 220.3,651.9 221.7,657.3 216.9,658.7" fill="#fbe7a0" stroke="#cdb86f" stroke-width="0.6" stroke-linejoin="round"/>
<polygon points="90.6,578.5 104.2,580.2 116,583.6 119.4,592.1 111,602.3 107.6,612.5 102.5,622.7 99.1,632.9 100.8,643 94,653.2 92.3,663.4 80.4,665.1 71.9,663.4 73.6,649.8 70.2,632.9 77,619.3 82.1,605.7 87.2,592.1" fill="#5db2cc" stroke="#2a6f8c" stroke-width="0.6" stroke-linejoin="round"/>
<polygon points="197.7,300 204.8,300.6 211.9,301.2 216,301.8 214.8,305.3 210.7,309.5 206.6,313.6 204.8,316.5 201.3,318.9 207.2,317.7 214.2,317.7 221.3,318.9 224.9,321.8 224.3,326.6 221.3,331.3 217.8,336 214.2,339.5 209.5,341.9 207.2,344.2 202.5,346.6 207.2,347.8 211.9,349 216,351.3 219,356 221.3,361.9 222.5,367.8 224.3,373.7 228.4,377.9 231.9,383.2 233.1,390 233.8,400 240,406.2 246.2,412.5 248.8,420 246.2,428.8 240,433.8 235,436.2 238.8,440 230,441.2 222.5,441.2 212.5,440 205,442.5 195,440 185,442.5 175,443.8 167.5,447.5 161.2,446.2 167.5,440 175,435 182.5,431.2 190,428.8 200,425 196.2,420 187.5,420 180,417.5 173.8,417.5 172.5,412.5 180,407.5 185,401.2 183.8,393.8 188.8,390 196.2,391.2 200,386.2 200.7,387.9 202.5,383.2 199.5,379.6 197.7,374.9 200.1,370.2 202.5,366.1 197.7,366.7 192.4,367.2 187.7,366.7 184.2,364.3 185.4,360.8 188.9,356 191.2,351.3 188.9,347.8 185.4,349 184.2,344.2 187.1,340.7 188.3,337.2 185.4,334.8 183.6,330.1 186.5,325.4 188.3,320.7 187.7,315.4 190.1,311.8 193,308.9 195.4,304.2" fill="#e5e5e5" stroke="#bdbdbd" stroke-width="0.6" stroke-linejoin="round"/>
<polygon points="168.3,324.2 171.8,317.1 175.3,310 180,303 185.4,298.8 188.3,299.4 186.5,303.6 182.4,307.7 178.3,313 174.7,318.9 171.2,323.6" fill="#e9e9e9" stroke="#b8b8b8" stroke-width="0.6" stroke-linejoin="round"/>
<polygon points="179.5,314.8 183,313.6 185.4,317.7 186.5,322.4 184.2,323.6 181.8,320.1" fill="#e9e9e9" stroke="#b8b8b8" stroke-width="0.6" stroke-linejoin="round"/>
<polygon points="174.2,345.4 177.7,341.9 181.8,339.5 183.6,341.3 180,344.2 176.5,347.2" fill="#e9e9e9" stroke="#b8b8b8" stroke-width="0.6" stroke-linejoin="round"/>
<polygon points="180.6,351.3 183.6,346.6 187.1,343.7 188.9,345.4 185.4,349.6 182.4,353.7" fill="#e9e9e9" stroke="#b8b8b8" stroke-width="0.6" stroke-linejoin="round"/>
<polygon points="184.8,376.7 187.7,373.1 190.1,372.5 189.5,375.5 186.5,378.4" fill="#e9e9e9" stroke="#b8b8b8" stroke-width="0.6" stroke-linejoin="round"/>
<polygon points="163.8,354.6 160.9,357 157.2,358.9 154.3,360.3 152.9,362.6 154.3,366.4 157.2,368.8 160.9,368.3 162.8,367.4 164.2,371.1 166.6,374 169,375.4 172.3,373 176,371.1 178.4,367.4 177.9,361.7 176,357 172.3,354.2 167.5,354.2" fill="#e5e5e5" stroke="#c4c4c4" stroke-width="0.6" stroke-linejoin="round"/>
<polygon points="147.7,357.5 152.5,353.2 157.2,351.8 162.8,351.3 165.2,352.3 163.8,354.6 160.9,357 157.2,358.9 154.3,360.3 152.9,362.6 154.3,366.4 157.2,368.8 160.9,368.3 162.8,367.4 164.2,371.1 166.6,374 169,375.4 168,379.6 169,384.3 168.5,389.1 167.1,393.8 165.7,398.5 162.8,403.2 160.9,406 157.2,406.5 152.5,406 147.7,407 143,407.9 138.3,409.3 133.6,410.3 128.9,411.2 124.2,410.3 122.3,407.9 124.2,406 119.4,404.2 118.5,401.3 121.3,399.9 119.4,397.5 123.2,395.7 127,392.8 130.3,389.1 133.6,386.2 137.4,384.3 135.5,382.5 131.7,382.9 128.9,381.5 130.3,377.7 128.9,374.9 130.8,372.1 130.3,368.3 132.6,364.1 136.4,362.6 141.1,363.6 144.9,365.5 148.7,364.5 151.5,362.6 150.6,359.8" fill="#2451a3" stroke="#2451a3" stroke-width="0.5" stroke-linejoin="round"/>
</g>
<polygon points="706,716 711,703 722.5,694 741,694 758,709 795,664 820,664 820,728 700,728" fill="#ffffff"/>
<g fill="#ffffff">
<polygon points="390.7,112.5 398.1,118.3 397.6,112.7"/>
<polygon points="380.9,120.6 388.4,126.3 387.8,121.0"/>
<polygon points="370.3,133.7 379.5,136.0 381.3,131.6 374.2,130.4"/>
<polygon points="357.9,149.7 368.0,145.8 376.0,140.5 374.2,138.3 365.4,142.8"/>
<polygon points="354.4,167.3 360.1,159.9 364.5,152.8 362.7,151.6 358.3,157.8"/>
<polygon points="347.3,185.0 352.1,179.4 356.5,170.5 354.8,169.3 350.3,177.2"/>
<polygon points="340.3,206.3 345.0,198.8 348.6,191.8 346.8,190.5 343.3,196.7"/>
</g>
<polygon points="428.3,84.5 431.7,100.6 432.8,85.7" fill="#ffffff"/>
<polygon points="437.4,80.4 439.2,92.5 441.1,81.1" fill="#ffffff"/>
<polygon points="443.8,81.5 446.0,94.3 447.9,83.0" fill="#ffffff"/>
<polygon points="450.9,82.6 452.8,89.8 454.7,83.8" fill="#ffffff"/>
<polygon points="416.2,88.3 424.9,95.5 423.0,86.0" fill="#ffffff"/>
<polygon points="407.9,95.1 418.3,101.1 416.4,91.7" fill="#ffffff"/>
<polygon points="400.4,102.6 409.8,109.4 409.4,100.4" fill="#ffffff"/>
<polygon points="422.6,78.9 428.3,83.0 430.2,78.9" fill="#ffffff"/>
<polygon points="411.3,84.5 417.9,88.3 418.9,82.3" fill="#ffffff"/>
<polygon points="366.3,136.0 370.7,131.6 376.9,128.1 383.1,125.4 384.0,127.2 377.8,130.2 372.5,133.7 368.0,136.9" fill="#5db2cc"/>
<polygon points="337.8,227.1 342.7,224.7 347.7,220.5 347.4,222.7 342.4,227.3" fill="#ffffff"/>
<polygon points="295.7,267.6 303.1,266.3 309.7,267.1 303.1,268.1" fill="#d8eef5"/>
<polygon points="296.5,289.1 300.6,284.9 303.1,282.5 301.8,287.4 298.2,291.5" fill="#ffffff"/>
</g>
<!-- titles -->
<text x="22" y="41" font-size="29.2" fill="#3c3c3c" stroke="#3c3c3c" stroke-width="0.75" textLength="291" lengthAdjust="spacingAndGlyphs">Total fertility rate, 2022</text>
<text x="22" y="68.8" font-size="22.4" fill="#4a4a4a" textLength="236" lengthAdjust="spacingAndGlyphs">(live births per woman)</text>
<g id="legend" font-size="11.5" fill="#4a4a4a">
<rect x="22" y="218.0" width="27" height="13.3" fill="#1b2371" stroke="#8a8a8a" stroke-width="0.5"/>
<text x="57" y="228.8" textLength="28" lengthAdjust="spacingAndGlyphs">≥ 1.6</text>
<rect x="22" y="236.3" width="27" height="13.3" fill="#2451a3" stroke="#8a8a8a" stroke-width="0.5"/>
<text x="57" y="247.1" textLength="55" lengthAdjust="spacingAndGlyphs">1.5 – &lt; 1.6</text>
<rect x="22" y="254.6" width="27" height="13.3" fill="#5db2cc" stroke="#8a8a8a" stroke-width="0.5"/>
<text x="57" y="265.4" textLength="55" lengthAdjust="spacingAndGlyphs">1.4 – &lt; 1.5</text>
<rect x="22" y="272.9" width="27" height="13.3" fill="#8acbbd" stroke="#8a8a8a" stroke-width="0.5"/>
<text x="57" y="283.7" textLength="55" lengthAdjust="spacingAndGlyphs">1.3 – &lt; 1.4</text>
<rect x="22" y="291.2" width="27" height="13.3" fill="#c9e6b9" stroke="#8a8a8a" stroke-width="0.5"/>
<text x="57" y="302.0" textLength="55" lengthAdjust="spacingAndGlyphs">1.2 – &lt; 1.3</text>
<rect x="22" y="309.5" width="27" height="13.3" fill="#fbe7a0" stroke="#8a8a8a" stroke-width="0.5"/>
<text x="57" y="320.3" textLength="28" lengthAdjust="spacingAndGlyphs">&lt; 1.2</text>
<rect x="22" y="327.8" width="27" height="13.3" fill="#9c9c9c" stroke="#8a8a8a" stroke-width="0.5"/>
<text x="57" y="338.6" textLength="99" lengthAdjust="spacingAndGlyphs">Data not available</text>
</g>
<g id="inset">
<rect x="559.5" y="80.5" width="257.5" height="278.5" fill="#e6e6e6"/>
<rect x="562.8" y="87.3" width="248.7" height="268.7" fill="#ffffff"/>
<g stroke="#9a9a9a" stroke-width="0.8" fill="none">
<line x1="648.9" y1="111.2" x2="648.9" y2="274.3"/>
<line x1="572.4" y1="179.9" x2="642.5" y2="179.9"/>
<line x1="572.4" y1="282.6" x2="801.8" y2="282.6"/>
<line x1="726.1" y1="105.6" x2="735.5" y2="146.9"/>
<line x1="735.5" y1="146.9" x2="801.8" y2="158.1"/>
<line x1="735.5" y1="146.9" x2="717.5" y2="179.5"/>
<line x1="653.7" y1="170.5" x2="717.5" y2="179.5"/>
<line x1="717.5" y1="179.5" x2="737.3" y2="220.0"/>
<line x1="737.3" y1="220.0" x2="801.8" y2="227.5"/>
<line x1="737.3" y1="220.0" x2="737.3" y2="274.3"/>
<line x1="628.2" y1="304.3" x2="620.0" y2="338.1"/>
<line x1="681.9" y1="304.3" x2="681.9" y2="345.6"/>
<line x1="741.8" y1="304.3" x2="741.8" y2="345.6"/>
</g>
<g font-size="8" fill="#4f4f4f" stroke="#4f4f4f" stroke-width="0.3">
<text x="572.4" y="106.4" textLength="49.5" lengthAdjust="spacingAndGlyphs">Canarias (ES)</text>
<text x="651.1" y="106.4" textLength="63.8" lengthAdjust="spacingAndGlyphs">Guadeloupe (FR)</text>
<text x="741.8" y="106.4" textLength="58.9" lengthAdjust="spacingAndGlyphs">Martinique (FR)</text>
<text x="741.8" y="172.0" textLength="48.8" lengthAdjust="spacingAndGlyphs">Réunion (FR)</text>
<text x="655.6" y="191.9" textLength="45.0" lengthAdjust="spacingAndGlyphs">Guyane (FR)</text>
<text x="572.4" y="205.7" textLength="21.3" lengthAdjust="spacingAndGlyphs">Malta</text>
<text x="741.8" y="237.6" textLength="48.0" lengthAdjust="spacingAndGlyphs">Mayotte (FR)</text>
<text x="572.4" y="298.7" textLength="43.1" lengthAdjust="spacingAndGlyphs">Açores (PT)</text>
<text x="630.1" y="298.7" textLength="48.8" lengthAdjust="spacingAndGlyphs">Madeira (PT)</text>
<text x="687.5" y="298.7" textLength="50.6" lengthAdjust="spacingAndGlyphs">Liechtenstein</text>
<text x="745.6" y="298.7" textLength="52.5" lengthAdjust="spacingAndGlyphs">Svalbard (NO)</text>
</g>
<polygon points="655.9,198.8 678.2,202.0 703.7,210.5 720.7,225.4 728.1,239.2 732.3,256.1 733.4,275.2 655.9,275.2" fill="url(#guy)"/>
<polygon points="678.2,204.1 685.6,205.2 693.1,208.4 701.6,213.7 710.0,219.0 716.4,224.3 718.5,230.7 715.4,237.0 711.1,245.5 707.9,254.0 703.7,260.4 697.3,263.6 688.8,262.5 682.5,261.4 675.0,265.7 669.7,264.6 667.6,261.4 672.9,256.1 675.0,249.8 674.0,242.3 671.8,234.9 669.7,226.4 669.7,217.9 671.8,210.5" fill="#1b2371"/>
<polygon points="666.9,135.6 674.4,131.9 680.0,139.4 680.0,150.6 674.4,156.2 668.7,150.6 665.7,143.1" fill="#1b2371"/>
<polygon points="681.9,131.9 683.7,124.4 689.4,124.4 691.2,131.9 700.6,135.6 696.9,139.4 685.6,141.2 680.0,139.4" fill="#1b2371"/>
<circle cx="697.6" cy="155.5" r="3.4" fill="#1b2371"/>
<polygon points="706.2,133.7 711.9,131.5 712.6,133.0 707.0,135.2" fill="#1b2371"/>
<polygon points="676.2,159.2 680.0,158.5 680.0,160.7 676.2,161.1" fill="#1b2371"/>
<polygon points="758.7,118.7 764.3,115.0 771.8,118.7 775.6,126.2 781.2,133.7 782.0,141.2 777.5,143.1 771.8,139.4 768.1,141.2 766.2,133.7 764.3,126.2" fill="#1b2371"/>
<ellipse cx="775.6" cy="198.2" rx="16.5" ry="13" fill="#1b2371"/>
<polygon points="763.1,248.7 767.4,245.5 770.5,249.8 775.9,251.9 780.1,255.1 778.0,260.4 775.9,265.7 776.9,271.0 772.7,275.2 767.4,272.1 766.3,266.7 769.5,262.5 767.4,256.1 764.2,253.0" fill="#1b2371"/>
<circle cx="784.2" cy="255.6" r="1.2" fill="#1b2371"/>
<g fill="#fbe7a0" stroke="#d2bc68" stroke-width="0.7">
<polygon points="586.2,223.7 593.7,221.9 601.2,225.6 603.1,231.2 597.5,233.1 590.0,230.5"/>
<polygon points="603.1,240.6 610.6,236.9 620.0,240.6 627.5,246.2 629.4,251.9 621.9,254.5 610.6,253.7 604.2,248.1"/>
<polygon points="578.0,123.6 581.4,122.9 581.7,126.2 579.9,129.2"/>
<circle cx="589.2" cy="136.0" r="1.6"/>
<polygon points="594.5,131.9 601.2,129.2 605.0,128.5 602.0,135.6 597.5,137.5"/>
<circle cx="613.2" cy="137.9" r="3.4"/>
<polygon points="630.5,134.5 635.7,126.2 638.0,127.0 634.2,136.7"/>
<polygon points="638.0,125.5 641.0,119.5 643.2,120.2 640.2,126.2"/>
<polygon points="575.4,141.2 578.7,139.7 578.0,142.4"/>
</g>
<g fill="#5db2cc">
<polygon points="585.5,316.7 590.0,316.0 595.6,319.0 594.5,320.8 588.1,319.3"/>
<polygon points="600.5,315.6 606.9,317.5 610.6,320.5 608.0,322.0 602.0,319.0"/>
<polygon points="613.2,313.7 618.1,313.0 620.0,316.0 615.5,317.5"/>
<polygon points="636.9,313.7 646.2,311.8 655.6,315.6 659.4,319.3 650.0,322.0 640.6,320.5"/>
<polygon points="663.1,326.1 665.7,328.7 667.2,333.2 665.0,332.5"/>
<polygon points="750.4,315.6 755.7,312.4 762.1,313.4 767.4,308.1 773.7,307.1 779.0,308.1 775.9,313.4 772.7,318.8 775.9,326.2 779.0,333.6 775.9,337.9 771.6,330.4 768.4,334.7 765.2,342.1 762.1,336.8 758.9,330.4 754.6,326.2 751.4,320.9"/>
<polygon points="783.1,310.0 788.7,308.1 790.6,313.0 785.0,314.5"/>
<polygon points="780.5,320.5 785.0,322.0 783.5,325.7"/>
</g>
<rect x="689.4" y="304.3" width="46.1" height="41.3" fill="#8acbbd" filter="url(#soft)"/>
<polygon points="718.5,307.1 721.7,306.0 723.8,314.5 727.0,321.9 729.2,329.4 724.9,334.7 718.5,335.7 715.4,332.6 714.3,324.1 716.4,315.6" fill="#5db2cc" stroke="#2a5d70" stroke-width="0.8"/>
<g font-size="6" fill="#666666">
<rect x="575.7" y="151.7" width="16.2" height="4.2" fill="#fff" stroke="#222" stroke-width="1"/>
<rect x="575.7" y="151.7" width="16.2" height="2.1" fill="#222"/>
<text x="574.7" y="163.7">0&#160;&#160;&#160;100</text>
<rect x="704.4" y="151.7" width="11.2" height="3.8" fill="#fff" stroke="#222" stroke-width="1"/>
<rect x="704.4" y="151.7" width="11.2" height="1.9" fill="#222"/>
<text x="703.4" y="163.7">0&#160;&#160;20</text>
<rect x="743.7" y="131.1" width="11.3" height="3.8" fill="#fff" stroke="#222" stroke-width="1"/>
<rect x="743.7" y="131.1" width="11.3" height="1.9" fill="#222"/>
<text x="742.7" y="143.1">0&#160;&#160;20</text>
<rect x="743.7" y="203.1" width="12.4" height="4.1" fill="#fff" stroke="#222" stroke-width="1"/>
<rect x="743.7" y="203.1" width="12.4" height="2.0" fill="#222"/>
<text x="742.7" y="215.5">0&#160;&#160;20</text>
<rect x="710.0" y="257.5" width="10.5" height="3.7" fill="#fff" stroke="#222" stroke-width="1"/>
<rect x="710.0" y="257.5" width="10.5" height="1.8" fill="#222"/>
<text x="709.0" y="269.5">0&#160;50</text>
<rect x="744.5" y="258.6" width="10.5" height="3.8" fill="#fff" stroke="#222" stroke-width="1"/>
<rect x="744.5" y="258.6" width="10.5" height="1.9" fill="#222"/>
<text x="743.5" y="270.6">0&#160;10</text>
<rect x="575.7" y="256.4" width="12.4" height="4.1" fill="#fff" stroke="#222" stroke-width="1"/>
<rect x="575.7" y="256.4" width="12.4" height="2.1" fill="#222"/>
<text x="574.7" y="269.5">0&#160;&#160;10</text>
<rect x="575.0" y="328.7" width="11.2" height="4.1" fill="#fff" stroke="#222" stroke-width="1"/>
<rect x="575.0" y="328.7" width="11.2" height="2.1" fill="#222"/>
<text x="574.0" y="341.5">0&#160;&#160;50</text>
<rect x="633.1" y="328.7" width="9.4" height="4.1" fill="#fff" stroke="#222" stroke-width="1"/>
<rect x="633.1" y="328.7" width="9.4" height="2.1" fill="#222"/>
<text x="632.1" y="341.5">0&#160;20</text>
<rect x="699.5" y="331.7" width="11.2" height="3.8" fill="#fff" stroke="#222" stroke-width="1"/>
<rect x="699.5" y="331.7" width="11.2" height="1.9" fill="#222"/>
<text x="698.5" y="343.7">0&#160;&#160;10</text>
<rect x="783.1" y="334.3" width="9.4" height="4.2" fill="#fff" stroke="#222" stroke-width="1"/>
<rect x="783.1" y="334.3" width="9.4" height="2.1" fill="#222"/>
<text x="782.1" y="347.5">0&#160;100</text>
</g>
</g>
<g id="labels" font-size="14" font-weight="bold" text-anchor="middle" stroke-linejoin="round" paint-order="stroke">
<text x="133" y="171.3" fill="#27305a" stroke="#eef2fb" stroke-width="2.5" textLength="24.5" lengthAdjust="spacingAndGlyphs">1.59</text>
<text x="333.5" y="281.8" fill="#2a2f2f" stroke="#ffffff" stroke-width="2" stroke-opacity="0.85" textLength="24.5" lengthAdjust="spacingAndGlyphs">1.41</text>
<text x="387" y="304.3" fill="#27305a" stroke="#eef2fb" stroke-width="2.5" textLength="24.5" lengthAdjust="spacingAndGlyphs">1.53</text>
<text x="470" y="237.3" fill="#2a2f2f" stroke="#ffffff" stroke-width="2" stroke-opacity="0.85" textLength="24.5" lengthAdjust="spacingAndGlyphs">1.32</text>
<text x="480" y="297.3" fill="#2a2f2f" stroke="#ffffff" stroke-width="2" stroke-opacity="0.85" textLength="24.5" lengthAdjust="spacingAndGlyphs">1.41</text>
<text x="490" y="330.3" fill="#2a2f2f" stroke="#ffffff" stroke-width="2" stroke-opacity="0.85" textLength="24.5" lengthAdjust="spacingAndGlyphs">1.47</text>
<text x="481" y="364.3" fill="#2a2f2f" stroke="#ffffff" stroke-width="2" stroke-opacity="0.85" textLength="24.5" lengthAdjust="spacingAndGlyphs">1.27</text>
<text x="337" y="366.3" fill="#27305a" stroke="#eef2fb" stroke-width="2.5" textLength="24.5" lengthAdjust="spacingAndGlyphs">1.55</text>
<text x="148" y="402.3" fill="#27305a" stroke="#eef2fb" stroke-width="2.5" textLength="24.5" lengthAdjust="spacingAndGlyphs">1.54</text>
<text x="290" y="431.3" fill="#2a2f2f" stroke="#ffffff" stroke-width="2" stroke-opacity="0.85" textLength="24.5" lengthAdjust="spacingAndGlyphs">1.49</text>
<text x="276" y="455.3" fill="#27305a" stroke="#eef2fb" stroke-width="2.5" textLength="24.5" lengthAdjust="spacingAndGlyphs">1.53</text>
<text x="305" y="473.3" fill="#2a2f2f" stroke="#ffffff" stroke-width="2" stroke-opacity="0.85" textLength="24.5" lengthAdjust="spacingAndGlyphs">1.31</text>
<text x="342" y="449.3" fill="#2a2f2f" stroke="#ffffff" stroke-width="2" stroke-opacity="0.85" textLength="24.5" lengthAdjust="spacingAndGlyphs">1.46</text>
<text x="439" y="433.3" fill="#2a2f2f" stroke="#ffffff" stroke-width="2" stroke-opacity="0.85" textLength="24.5" lengthAdjust="spacingAndGlyphs">1.29</text>
<text x="399" y="472.3" fill="#27305a" stroke="#eef2fb" stroke-width="2.5" textLength="24.5" lengthAdjust="spacingAndGlyphs">1.64</text>
<text x="452" y="486.3" fill="#27305a" stroke="#eef2fb" stroke-width="2.5" textLength="24.5" lengthAdjust="spacingAndGlyphs">1.57</text>
<text x="449" y="517.3" fill="#27305a" stroke="#eef2fb" stroke-width="2.5" textLength="24.5" lengthAdjust="spacingAndGlyphs">1.56</text>
<text x="397" y="513.3" fill="#2a2f2f" stroke="#ffffff" stroke-width="2" stroke-opacity="0.85" textLength="24.5" lengthAdjust="spacingAndGlyphs">1.41</text>
<text x="250" y="519.3" fill="#27305a" stroke="#eef2fb" stroke-width="2.5" textLength="24.5" lengthAdjust="spacingAndGlyphs">1.79</text>
<text x="313" y="528.3" fill="#2a2f2f" stroke="#ffffff" stroke-width="2" stroke-opacity="0.85" textLength="24.5" lengthAdjust="spacingAndGlyphs">1.39</text>
<text x="332" y="517.3" fill="#2a2f2f" stroke="#ffffff" stroke-width="2" stroke-opacity="0.85" textLength="24.5" lengthAdjust="spacingAndGlyphs">1.47</text>
<text x="392" y="542.3" fill="#27305a" stroke="#eef2fb" stroke-width="2.5" textLength="24.5" lengthAdjust="spacingAndGlyphs">1.55</text>
<text x="392" y="559.3" fill="#2a2f2f" stroke="#ffffff" stroke-width="2" stroke-opacity="0.85" textLength="24.5" lengthAdjust="spacingAndGlyphs">1.53</text>
<text x="517" y="528.3" fill="#27305a" stroke="#eef2fb" stroke-width="2.5" textLength="24.5" lengthAdjust="spacingAndGlyphs">1.71</text>
<text x="478" y="565.3" fill="#27305a" stroke="#eef2fb" stroke-width="2.5" textLength="24.5" lengthAdjust="spacingAndGlyphs">1.59</text>
<text x="536" y="576.3" fill="#27305a" stroke="#eef2fb" stroke-width="2.5" textLength="24.5" lengthAdjust="spacingAndGlyphs">1.65</text>
<text x="366" y="595.3" fill="#2a2f2f" stroke="#ffffff" stroke-width="2" stroke-opacity="0.85" textLength="24.5" lengthAdjust="spacingAndGlyphs">1.24</text>
<text x="468.5" y="624.8" fill="#2a2f2f" stroke="#ffffff" stroke-width="2" stroke-opacity="0.85" textLength="24.5" lengthAdjust="spacingAndGlyphs">1.21</text>
<text x="506" y="664.3" fill="#2a2f2f" stroke="#ffffff" stroke-width="2" stroke-opacity="0.85" textLength="24.5" lengthAdjust="spacingAndGlyphs">1.32</text>
<text x="95" y="625.3" fill="#2a2f2f" stroke="#ffffff" stroke-width="2" stroke-opacity="0.85" textLength="24.5" lengthAdjust="spacingAndGlyphs">1.43</text>
<text x="152" y="640.3" fill="#2a2f2f" stroke="#ffffff" stroke-width="2" stroke-opacity="0.85" textLength="24.5" lengthAdjust="spacingAndGlyphs">1.16</text>
<text x="429" y="715.3" fill="#2a2f2f" stroke="#ffffff" stroke-width="2" stroke-opacity="0.85" textLength="24.5" lengthAdjust="spacingAndGlyphs">1.08</text>
<text x="672" y="705.3" fill="#2a2f2f" stroke="#ffffff" stroke-width="2" stroke-opacity="0.85" textLength="24.5" lengthAdjust="spacingAndGlyphs">1.37</text>
<text x="687" y="608.3" fill="#27305a" stroke="#eef2fb" stroke-width="2.5" textLength="24.5" lengthAdjust="spacingAndGlyphs">1.63</text>
<text x="764" y="507.3" fill="#27305a" stroke="#eef2fb" stroke-width="2.5" textLength="24.5" lengthAdjust="spacingAndGlyphs">1.83</text>
</g>
<text x="17.3" y="752" font-size="22" fill="#6c6c6c" stroke="#6c6c6c" stroke-width="0.7" textLength="97.7" lengthAdjust="spacingAndGlyphs">eurostat</text>
<rect x="119" y="735.5" width="24.5" height="16.3" fill="#204c9c"/>
<circle cx="131.20" cy="739.00" r="0.7" fill="#f5d23a"/>
<circle cx="133.50" cy="739.62" r="0.7" fill="#f5d23a"/>
<circle cx="135.18" cy="741.30" r="0.7" fill="#f5d23a"/>
<circle cx="135.80" cy="743.60" r="0.7" fill="#f5d23a"/>
<circle cx="135.18" cy="745.90" r="0.7" fill="#f5d23a"/>
<circle cx="133.50" cy="747.58" r="0.7" fill="#f5d23a"/>
<circle cx="131.20" cy="748.20" r="0.7" fill="#f5d23a"/>
<circle cx="128.90" cy="747.58" r="0.7" fill="#f5d23a"/>
<circle cx="127.22" cy="745.90" r="0.7" fill="#f5d23a"/>
<circle cx="126.60" cy="743.60" r="0.7" fill="#f5d23a"/>
<circle cx="127.22" cy="741.30" r="0.7" fill="#f5d23a"/>
<circle cx="128.90" cy="739.62" r="0.7" fill="#f5d23a"/>
<g font-size="11.1" fill="#5a5a5a">
<clipPath id="p1clip"><rect x="15.3" y="14" width="805" height="798.5"/></clipPath>
<g clip-path="url(#p1clip)">
<text x="10.5" y="780" textLength="348" lengthAdjust="spacingAndGlyphs">Bulgaria, Croatia, Hungary, and Poland: break in time series for 2022.</text>
<text x="10.5" y="794.5" textLength="138" lengthAdjust="spacingAndGlyphs">Source dataset: demo_find</text>
</g>
<text x="814" y="779" text-anchor="end" textLength="347" lengthAdjust="spacingAndGlyphs">Administrative boundaries: © EuroGeographics © UN–FAO © Turkstat</text>
<text x="814" y="794" text-anchor="end" textLength="203" lengthAdjust="spacingAndGlyphs">Cartography: Eurostat – IMAGE, 03/2024</text>
</g>
<polygon points="795,664 816,664 767,721.5 758,709" fill="#2246b8"/>
<polygon points="741,694 746,699 758,709 767,721.5 746,721.5 732,706.5" fill="url(#gry)"/>
<polygon points="722.5,694 741,694 732,706.5 696,750 678,746" fill="url(#yel)"/>
<g id="chart">
<rect x="15.5" y="826.5" width="814" height="424" fill="#f5f5f5"/>
<line x1="100.05" y1="896.5" x2="100.05" y2="1192" stroke="#dfdfdf" stroke-width="1"/>
<line x1="133.60" y1="896.5" x2="133.60" y2="1192" stroke="#dfdfdf" stroke-width="1"/>
<line x1="167.15" y1="896.5" x2="167.15" y2="1192" stroke="#dfdfdf" stroke-width="1"/>
<line x1="200.70" y1="896.5" x2="200.70" y2="1192" stroke="#dfdfdf" stroke-width="1"/>
<line x1="234.25" y1="896.5" x2="234.25" y2="1192" stroke="#dfdfdf" stroke-width="1"/>
<line x1="267.80" y1="896.5" x2="267.80" y2="1192" stroke="#dfdfdf" stroke-width="1"/>
<line x1="301.35" y1="896.5" x2="301.35" y2="1192" stroke="#dfdfdf" stroke-width="1"/>
<line x1="334.90" y1="896.5" x2="334.90" y2="1192" stroke="#dfdfdf" stroke-width="1"/>
<line x1="368.45" y1="896.5" x2="368.45" y2="1192" stroke="#dfdfdf" stroke-width="1"/>
<line x1="402.00" y1="896.5" x2="402.00" y2="1192" stroke="#dfdfdf" stroke-width="1"/>
<line x1="435.55" y1="896.5" x2="435.55" y2="1192" stroke="#dfdfdf" stroke-width="1"/>
<line x1="469.10" y1="896.5" x2="469.10" y2="1192" stroke="#dfdfdf" stroke-width="1"/>
<line x1="502.65" y1="896.5" x2="502.65" y2="1192" stroke="#dfdfdf" stroke-width="1"/>
<line x1="536.20" y1="896.5" x2="536.20" y2="1192" stroke="#dfdfdf" stroke-width="1"/>
<line x1="569.75" y1="896.5" x2="569.75" y2="1192" stroke="#dfdfdf" stroke-width="1"/>
<line x1="603.30" y1="896.5" x2="603.30" y2="1192" stroke="#dfdfdf" stroke-width="1"/>
<line x1="636.85" y1="896.5" x2="636.85" y2="1192" stroke="#dfdfdf" stroke-width="1"/>
<line x1="670.40" y1="896.5" x2="670.40" y2="1192" stroke="#dfdfdf" stroke-width="1"/>
<line x1="703.95" y1="896.5" x2="703.95" y2="1192" stroke="#dfdfdf" stroke-width="1"/>
<line x1="737.50" y1="896.5" x2="737.50" y2="1192" stroke="#dfdfdf" stroke-width="1"/>
<line x1="771.05" y1="896.5" x2="771.05" y2="1192" stroke="#dfdfdf" stroke-width="1"/>
<line x1="804.60" y1="896.5" x2="804.60" y2="1192" stroke="#dfdfdf" stroke-width="1"/>
<line x1="66.5" y1="1149.79" x2="804.60" y2="1149.79" stroke="#d6d6d6" stroke-width="1" stroke-dasharray="1.2,1.2"/>
<line x1="66.5" y1="1107.57" x2="804.60" y2="1107.57" stroke="#d6d6d6" stroke-width="1" stroke-dasharray="1.2,1.2"/>
<line x1="66.5" y1="1065.36" x2="804.60" y2="1065.36" stroke="#d6d6d6" stroke-width="1" stroke-dasharray="1.2,1.2"/>
<line x1="66.5" y1="1023.14" x2="804.60" y2="1023.14" stroke="#d6d6d6" stroke-width="1" stroke-dasharray="1.2,1.2"/>
<line x1="66.5" y1="980.93" x2="804.60" y2="980.93" stroke="#d6d6d6" stroke-width="1" stroke-dasharray="1.2,1.2"/>
<line x1="66.5" y1="938.71" x2="804.60" y2="938.71" stroke="#d6d6d6" stroke-width="1" stroke-dasharray="1.2,1.2"/>
<line x1="66.5" y1="896.50" x2="804.60" y2="896.50" stroke="#d6d6d6" stroke-width="1" stroke-dasharray="1.2,1.2"/>
<line x1="66.5" y1="896.5" x2="66.5" y2="1192" stroke="#b4b4b4" stroke-width="1.2"/>
<line x1="66.0" y1="1192" x2="804.60" y2="1192" stroke="#b4b4b4" stroke-width="1.4"/>
<text x="39" y="859" font-size="19.5" font-weight="bold" fill="#2e2e2e" textLength="273.5" lengthAdjust="spacingAndGlyphs">Total fertility rate in the EU, 2001–2022</text>
<text x="39" y="876.5" font-size="11.5" font-style="italic" fill="#444" textLength="116" lengthAdjust="spacingAndGlyphs">(live births per woman)</text>
<g font-size="11" fill="#4a4a4a">
<text x="40" y="1196.0" textLength="17.3" lengthAdjust="spacingAndGlyphs">0.00</text>
<text x="40" y="1153.8" textLength="17.3" lengthAdjust="spacingAndGlyphs">0.25</text>
<text x="40" y="1111.6" textLength="17.3" lengthAdjust="spacingAndGlyphs">0.50</text>
<text x="40" y="1069.4" textLength="17.3" lengthAdjust="spacingAndGlyphs">0.75</text>
<text x="40" y="1027.1" textLength="17.3" lengthAdjust="spacingAndGlyphs">1.00</text>
<text x="40" y="984.9" textLength="17.3" lengthAdjust="spacingAndGlyphs">1.25</text>
<text x="40" y="942.7" textLength="17.3" lengthAdjust="spacingAndGlyphs">1.50</text>
<text x="40" y="900.5" textLength="17.3" lengthAdjust="spacingAndGlyphs">1.75</text>
</g>
<polyline fill="none" stroke="#32489a" stroke-width="2" stroke-linejoin="round" points="83.3,950.5 116.8,950.5 150.4,948.8 183.9,945.5 217.5,943.8 251.0,938.7 284.6,935.3 318.1,926.9 351.7,928.6 385.2,926.9 418.8,932.0 452.3,932.0 485.9,937.0 519.4,932.0 553.0,932.0 586.5,926.9 620.1,928.6 653.6,932.0 687.2,933.6 720.7,937.0 754.3,933.6 787.8,945.5"/>
<circle cx="83.3" cy="950.5" r="3.4" fill="#32489a"/>
<circle cx="116.8" cy="950.5" r="3.4" fill="#32489a"/>
<circle cx="150.4" cy="948.8" r="3.4" fill="#32489a"/>
<circle cx="183.9" cy="945.5" r="3.4" fill="#32489a"/>
<circle cx="217.5" cy="943.8" r="3.4" fill="#32489a"/>
<circle cx="251.0" cy="938.7" r="3.4" fill="#32489a"/>
<circle cx="284.6" cy="935.3" r="3.4" fill="#32489a"/>
<circle cx="318.1" cy="926.9" r="3.4" fill="#32489a"/>
<circle cx="351.7" cy="928.6" r="3.4" fill="#32489a"/>
<circle cx="385.2" cy="926.9" r="3.4" fill="#32489a"/>
<circle cx="418.8" cy="932.0" r="3.4" fill="#32489a"/>
<circle cx="452.3" cy="932.0" r="3.4" fill="#32489a"/>
<circle cx="485.9" cy="937.0" r="3.4" fill="#32489a"/>
<circle cx="519.4" cy="932.0" r="3.4" fill="#32489a"/>
<circle cx="553.0" cy="932.0" r="3.4" fill="#32489a"/>
<circle cx="586.5" cy="926.9" r="3.4" fill="#32489a"/>
<circle cx="620.1" cy="928.6" r="3.4" fill="#32489a"/>
<circle cx="653.6" cy="932.0" r="3.4" fill="#32489a"/>
<circle cx="687.2" cy="933.6" r="3.4" fill="#32489a"/>
<circle cx="720.7" cy="937.0" r="3.4" fill="#32489a"/>
<circle cx="754.3" cy="933.6" r="3.4" fill="#32489a"/>
<circle cx="787.8" cy="945.5" r="3.4" fill="#32489a"/>
<g font-size="10.5" font-style="italic" fill="#3a3a3a" stroke="#3a3a3a" stroke-width="0.25" text-anchor="middle">
<text transform="translate(81.8,1207.5) rotate(-55)" y="3.5" textLength="21" lengthAdjust="spacingAndGlyphs">2001</text>
<text transform="translate(115.3,1207.5) rotate(-55)" y="3.5" textLength="21" lengthAdjust="spacingAndGlyphs">2002</text>
<text transform="translate(148.9,1207.5) rotate(-55)" y="3.5" textLength="21" lengthAdjust="spacingAndGlyphs">2003</text>
<text transform="translate(182.4,1207.5) rotate(-55)" y="3.5" textLength="21" lengthAdjust="spacingAndGlyphs">2004</text>
<text transform="translate(216.0,1207.5) rotate(-55)" y="3.5" textLength="21" lengthAdjust="spacingAndGlyphs">2005</text>
<text transform="translate(249.5,1207.5) rotate(-55)" y="3.5" textLength="21" lengthAdjust="spacingAndGlyphs">2006</text>
<text transform="translate(283.1,1207.5) rotate(-55)" y="3.5" textLength="21" lengthAdjust="spacingAndGlyphs">2007</text>
<text transform="translate(316.6,1207.5) rotate(-55)" y="3.5" textLength="21" lengthAdjust="spacingAndGlyphs">2008</text>
<text transform="translate(350.2,1207.5) rotate(-55)" y="3.5" textLength="21" lengthAdjust="spacingAndGlyphs">2009</text>
<text transform="translate(383.7,1207.5) rotate(-55)" y="3.5" textLength="21" lengthAdjust="spacingAndGlyphs">2010</text>
<text transform="translate(417.3,1207.5) rotate(-55)" y="3.5" textLength="21" lengthAdjust="spacingAndGlyphs">2011</text>
<text transform="translate(450.8,1207.5) rotate(-55)" y="3.5" textLength="21" lengthAdjust="spacingAndGlyphs">2012</text>
<text transform="translate(484.4,1207.5) rotate(-55)" y="3.5" textLength="21" lengthAdjust="spacingAndGlyphs">2013</text>
<text transform="translate(517.9,1207.5) rotate(-55)" y="3.5" textLength="21" lengthAdjust="spacingAndGlyphs">2014</text>
<text transform="translate(551.5,1207.5) rotate(-55)" y="3.5" textLength="21" lengthAdjust="spacingAndGlyphs">2015</text>
<text transform="translate(585.0,1207.5) rotate(-55)" y="3.5" textLength="21" lengthAdjust="spacingAndGlyphs">2016</text>
<text transform="translate(618.6,1207.5) rotate(-55)" y="3.5" textLength="21" lengthAdjust="spacingAndGlyphs">2017</text>
<text transform="translate(652.1,1207.5) rotate(-55)" y="3.5" textLength="21" lengthAdjust="spacingAndGlyphs">2018</text>
<text transform="translate(685.7,1207.5) rotate(-55)" y="3.5" textLength="21" lengthAdjust="spacingAndGlyphs">2019</text>
<text transform="translate(719.2,1207.5) rotate(-55)" y="3.5" textLength="21" lengthAdjust="spacingAndGlyphs">2020</text>
<text transform="translate(752.8,1207.5) rotate(-55)" y="3.5" textLength="21" lengthAdjust="spacingAndGlyphs">2021</text>
<text transform="translate(786.3,1207.5) rotate(-55)" y="3.5" textLength="21" lengthAdjust="spacingAndGlyphs">2022</text>
</g>
<line x1="691.5" y1="881" x2="714.5" y2="881" stroke="#32489a" stroke-width="2"/><circle cx="703" cy="881" r="3.2" fill="#32489a"/>
<text x="720" y="884.6" font-size="10.8" fill="#3c3c3c" stroke="#3c3c3c" stroke-width="0.25" textLength="84" lengthAdjust="spacingAndGlyphs">TOTAL FERTILITY RATE</text>
<text x="39" y="1238.5" font-size="8.2" font-style="italic" fill="#444" textLength="192" lengthAdjust="spacingAndGlyphs">Break in time series in various years between 2010 and 2022.</text>
<polygon points="811,1208 829.7,1208 829.7,1209 797.5,1250 777,1250" fill="#2246b8"/>
<polygon points="743.5,1233.5 758.5,1232.5 753,1250 731,1250" fill="#f6c835"/>
<polygon points="758.5,1232.5 776.5,1250 753,1250" fill="url(#gry)"/>
<polygon points="829.5,1209.5 829.5,1250 798,1250" fill="#ffffff"/>
</g>
</svg></body></html>
